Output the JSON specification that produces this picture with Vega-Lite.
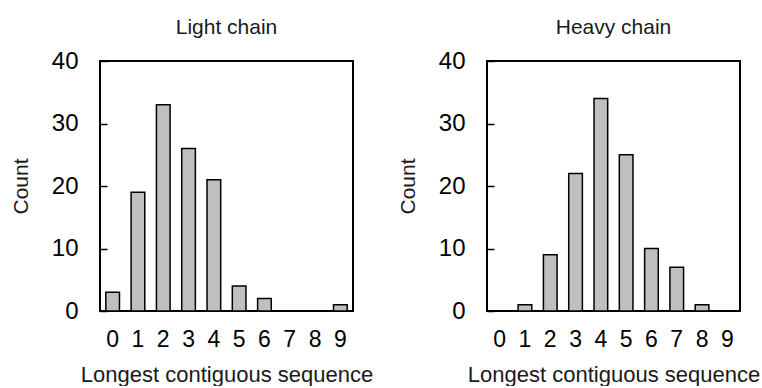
{
  "$schema": "https://vega.github.io/schema/vega-lite/v6.json",
  "padding": {"left": 9, "top": 16, "right": 0, "bottom": 0},
  "background": "white",
  "datasets": {
    "light": [
      {"length": 0, "count": 3}, {"length": 1, "count": 19}, {"length": 2, "count": 33},
      {"length": 3, "count": 26}, {"length": 4, "count": 21}, {"length": 5, "count": 4},
      {"length": 6, "count": 2}, {"length": 7, "count": 0}, {"length": 8, "count": 0},
      {"length": 9, "count": 1}
    ],
    "heavy": [
      {"length": 0, "count": 0}, {"length": 1, "count": 1}, {"length": 2, "count": 9},
      {"length": 3, "count": 22}, {"length": 4, "count": 34}, {"length": 5, "count": 25},
      {"length": 6, "count": 10}, {"length": 7, "count": 7}, {"length": 8, "count": 1},
      {"length": 9, "count": 0}
    ]
  },
  "bounds": "flush",
  "spacing": 134,
  "hconcat": [
    {
      "title": {"text": "Light chain"},
      "width": 253,
      "height": 250,
      "data": {"name": "light"},
      "mark": {"type": "bar", "fill": "#bfbfbf", "stroke": "black", "strokeWidth": 1.5},
      "encoding": {
        "x": {"field": "length", "type": "ordinal", "title": "Longest contiguous sequence",
              "scale": {"domain": [0,1,2,3,4,5,6,7,8,9], "paddingInner": 0.46, "paddingOuter": 0.23}},
        "y": {"field": "count", "type": "quantitative", "title": "Count",
              "scale": {"domain": [0, 40], "nice": false},
              "axis": {"values": [0, 10, 20, 30, 40]}}
      }
    },
    {
      "title": {"text": "Heavy chain"},
      "width": 253,
      "height": 250,
      "data": {"name": "heavy"},
      "mark": {"type": "bar", "fill": "#bfbfbf", "stroke": "black", "strokeWidth": 1.5},
      "encoding": {
        "x": {"field": "length", "type": "ordinal", "title": "Longest contiguous sequence",
              "scale": {"domain": [0,1,2,3,4,5,6,7,8,9], "paddingInner": 0.46, "paddingOuter": 0.23}},
        "y": {"field": "count", "type": "quantitative", "title": "Count",
              "scale": {"domain": [0, 40], "nice": false},
              "axis": {"values": [0, 10, 20, 30, 40]}}
      }
    }
  ],
  "config": {
    "font": "Liberation Sans",
    "view": {"stroke": "black", "strokeWidth": 2},
    "title": {"fontSize": 21, "fontWeight": "normal", "color": "#1a1a1a", "offset": 11},
    "axis": {"grid": false, "domain": false, "labelColor": "black", "titleColor": "#1a1a1a", "titleFontWeight": "normal"},
    "axisX": {"ticks": false, "labelAngle": 0, "labelFontSize": 23, "labelPadding": 17, "titleFontSize": 22, "titlePadding": 13},
    "axisY": {"tickSize": -7, "tickColor": "black", "tickWidth": 1.5, "labelFontSize": 24, "labelPadding": 29, "titleFontSize": 21, "titlePadding": 20}
  }
}
